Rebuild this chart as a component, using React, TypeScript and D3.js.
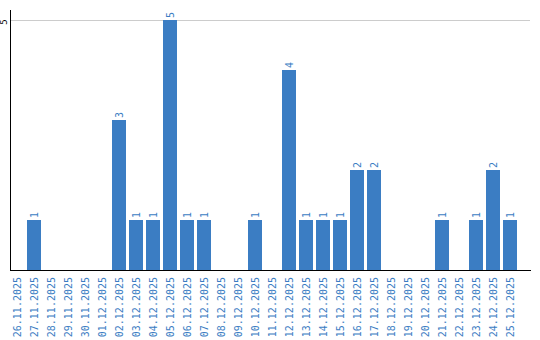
import React from "react";
import * as d3 from "d3";

const categories = [
  "26.11.2025", "27.11.2025", "28.11.2025", "29.11.2025", "30.11.2025",
  "01.12.2025", "02.12.2025", "03.12.2025", "04.12.2025", "05.12.2025",
  "06.12.2025", "07.12.2025", "08.12.2025", "09.12.2025", "10.12.2025",
  "11.12.2025", "12.12.2025", "13.12.2025", "14.12.2025", "15.12.2025",
  "16.12.2025", "17.12.2025", "18.12.2025", "19.12.2025", "20.12.2025",
  "21.12.2025", "22.12.2025", "23.12.2025", "24.12.2025", "25.12.2025",
];
const values = [
  0, 1, 0, 0, 0,
  0, 3, 1, 1, 5,
  1, 1, 0, 0, 1,
  0, 4, 1, 1, 1,
  2, 2, 0, 0, 0,
  1, 0, 1, 2, 1,
];
const yTicks = [5];

const W = 540;
const H = 340;
const BLUE = "#3b7dc3";
const FONT = "DejaVu Sans Mono, Liberation Mono, monospace";

export default function App() {
  const x = d3
    .scaleBand<string>()
    .domain(categories)
    .range([8.5, 518.5])
    .paddingInner(3 / 17)
    .paddingOuter(1.5 / 17);
  const y = d3.scaleLinear().domain([0, 5]).range([270, 20]);

  return (
    <svg
      width={W}
      height={H}
      style={{ position: "absolute", left: 0, top: 0, display: "block" }}
    >
      <rect width={W} height={H} fill="#fff" />
      {yTicks.map((t) => (
        <g key={t}>
          <line x1={11} x2={530} y1={y(t) + 0.5} y2={y(t) + 0.5} stroke="#cccccc" strokeWidth={1} />
          <text
            transform={`translate(4,${y(t) + 2}) rotate(-90)`}
            textAnchor="middle"
            dy="0.35em"
            fontFamily={FONT}
            fontSize={9}
            fill="#000"
          >
            {t}
          </text>
        </g>
      ))}
      {categories.map((c, i) => {
        const v = values[i];
        const bx = x(c)!;
        const bw = x.bandwidth();
        const cx = bx + bw / 2;
        return (
          <g key={c}>
            {v > 0 && (
              <>
                <rect x={bx} y={y(v)} width={bw} height={y(0) - y(v)} fill={BLUE} />
                <text
                  transform={`translate(${cx},${y(v) - 2}) rotate(-90)`}
                  textAnchor="start"
                  dy="0.35em"
                  fontFamily={FONT}
                  fontSize={10}
                  fill={BLUE}
                >
                  {v}
                </text>
              </>
            )}
            <text
              transform={`translate(${cx},277) rotate(-90)`}
              textAnchor="end"
              dy="0.35em"
              fontFamily={FONT}
              fontSize={10}
              fill={BLUE}
            >
              {c}
            </text>
          </g>
        );
      })}
      <line x1={10.5} x2={10.5} y1={10} y2={270} stroke="#000" strokeWidth={1} />
      <line x1={10} x2={531} y1={270.5} y2={270.5} stroke="#000" strokeWidth={1} />
    </svg>
  );
}
